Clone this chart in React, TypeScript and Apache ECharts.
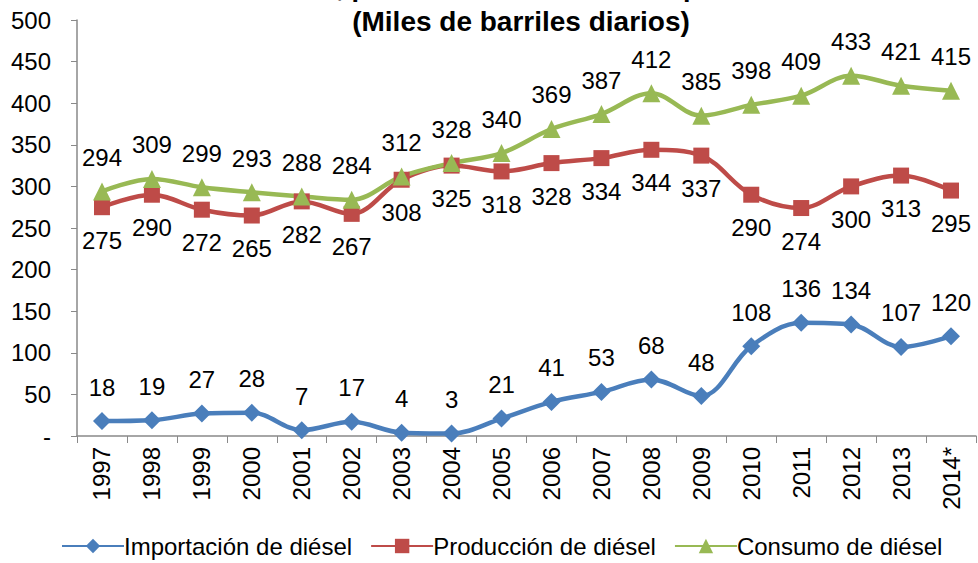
import React, { useEffect, useRef } from "react";
import * as echarts from "echarts";

const years = ["1997","1998","1999","2000","2001","2002","2003","2004","2005","2006","2007","2008","2009","2010","2011","2012","2013","2014*"];
const importacion = [18,19,27,28,7,17,4,3,21,41,53,68,48,108,136,134,107,120];
const produccion = [275,290,272,265,282,267,308,325,318,328,334,344,337,290,274,300,313,295];
const consumo = [294,309,299,293,288,284,312,328,340,369,387,412,385,398,409,433,421,415];

const FONT = "'Liberation Sans', Arial, sans-serif";

export default function App() {
  const ref = useRef<HTMLDivElement>(null);
  useEffect(() => {
    document.body.style.margin = "0";
    const chart = echarts.init(ref.current!, null, { renderer: "svg" });
    const label = (pos: string) => ({
      show: true,
      position: pos,
      distance: 13,
      fontSize: 24,
      color: "#000",
      fontFamily: FONT,
    });
    chart.setOption({
      animation: false,
      textStyle: { fontFamily: FONT },
      graphic: [
        {
          type: "text",
          x: 212,
          y: -27,
          style: { text: "Consumo, producción de diésel e importación", fontSize: 27, fontWeight: "bold", fill: "#000", fontFamily: FONT },
        },
        {
          type: "text",
          x: 521,
          y: 7,
          style: { text: "(Miles de barriles diarios)", fontSize: 28, fontWeight: "bold", fill: "#000", fontFamily: FONT, align: "center" },
        },
      ],
      grid: { left: 77, right: 2, top: 20, bottom: 127, containLabel: false },
      legend: {
        bottom: 0,
        left: 56,
        itemWidth: 62,
        itemHeight: 18,
        itemGap: 18,
        textStyle: { fontSize: 24, color: "#000", fontFamily: FONT, padding: [0, 0, 0, -5] },
        data: ["Importación de diésel", "Producción de diésel", "Consumo de diésel"],
      },
      xAxis: {
        type: "category",
        data: years,
        boundaryGap: true,
        axisLine: { lineStyle: { color: "#898989", width: 1.5 } },
        axisTick: { show: true, length: 7, lineStyle: { color: "#898989" } },
        axisLabel: { rotate: 90, fontSize: 24, color: "#000", margin: 11, fontFamily: FONT },
      },
      yAxis: {
        type: "value",
        min: 0,
        max: 500,
        interval: 50,
        splitLine: { show: false },
        axisLine: { show: true, lineStyle: { color: "#898989", width: 1.5 } },
        axisTick: { show: true, length: 6, lineStyle: { color: "#898989" } },
        axisLabel: {
          fontSize: 24,
          color: "#000",
          margin: 26,
          fontFamily: FONT,
          formatter: (v: number) => (v === 0 ? "-" : String(v)),
        },
      },
      series: [
        {
          name: "Importación de diésel",
          type: "line",
          data: importacion,
          smooth: 0.35,
          symbol: "diamond",
          symbolSize: 18,
          color: "#4A7EBB",
          lineStyle: { width: 4.5, color: "#4A7EBB" },
          itemStyle: { color: "#4A7EBB" },
          label: label("top"),
        },
        {
          name: "Producción de diésel",
          type: "line",
          data: produccion,
          smooth: 0.35,
          symbol: "rect",
          symbolSize: 16,
          color: "#BE4B48",
          lineStyle: { width: 4.5, color: "#BE4B48" },
          itemStyle: { color: "#BE4B48" },
          label: label("bottom"),
        },
        {
          name: "Consumo de diésel",
          type: "line",
          data: consumo,
          smooth: 0.35,
          symbol: "triangle",
          symbolSize: 18,
          color: "#98B954",
          lineStyle: { width: 4.5, color: "#98B954" },
          itemStyle: { color: "#98B954" },
          label: label("top"),
        },
      ],
    });
    return () => chart.dispose();
  }, []);
  return <div ref={ref} style={{ width: 978, height: 563 }} />;
}
